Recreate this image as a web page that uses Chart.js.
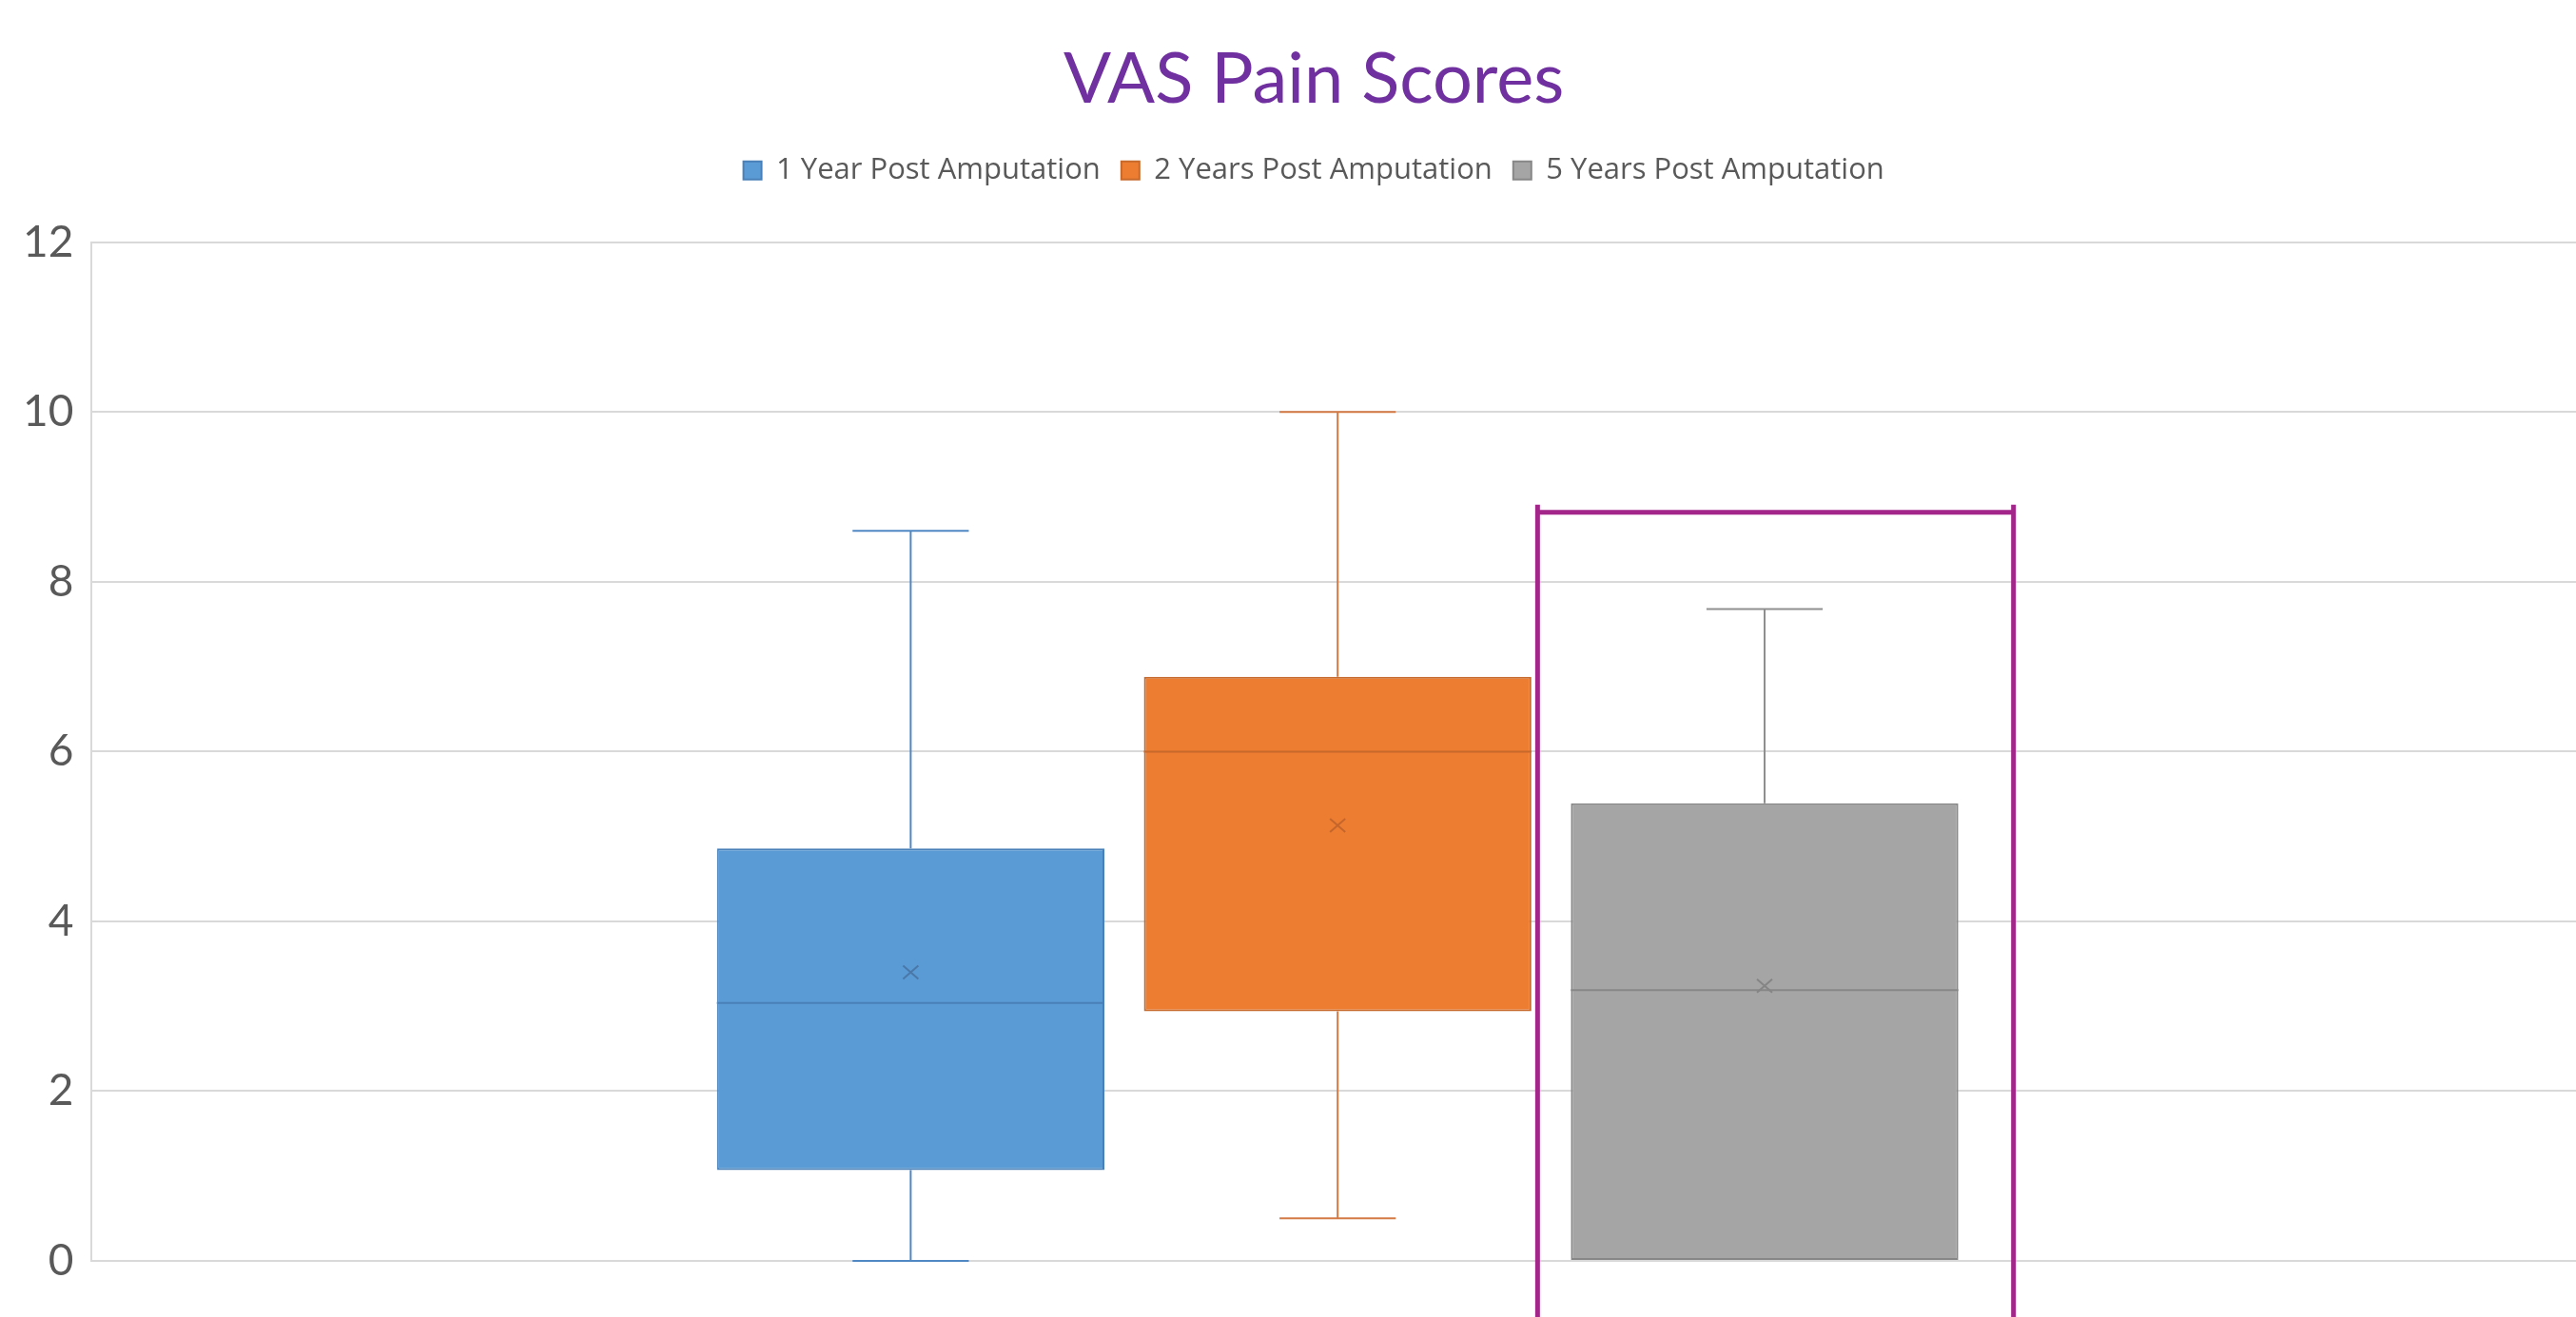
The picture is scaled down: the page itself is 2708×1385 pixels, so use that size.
<!DOCTYPE html>
<html>
<head>
<meta charset="utf-8">
<script src="https://cdn.jsdelivr.net/npm/chart.js@4.4.1/dist/chart.umd.min.js"></script>
<style>
  html, body { margin: 0; padding: 0; background: #fff; }
  #wrap { width: 2708px; height: 1385px; }
</style>
</head>
<body>
<div id="wrap"><canvas id="chart" width="2708" height="1385"></canvas></div>
<script>
/* VAS pain scores: box & whisker built from floating bars + a small draw plugin. */

const SERIES = ["1 Year Post Amputation", "2 Years Post Amputation", "5 Years Post Amputation"];
const MINS = [0, 0.5, 0];
const Q1S = [1.07, 2.94, 0];
const MEDIANS = [3.04, 6.0, 3.19];
const Q3S = [4.86, 6.88, 5.39];
const MAXS = [8.6, 10, 7.68];
const MEANS = [3.4, 5.13, 3.24];
const Y_TICKS = [0, 2, 4, 6, 8, 10, 12];

const FILLS = ["#5b9bd5", "#ed7d31", "#a5a5a5"];
const EDGES = ["#4a80b8", "#c8692c", "#878787"];
const WHISKERS = ["#5088c4", "#d47b45", "#8f8f8f"];
const MARKS = ["#4a78a8", "#c4662c", "#858585"];

// highlight bracket around the 5-year box (value of its top edge)
const BRACKET = { series: 2, top: 8.82, padLeft: 35, padRight: 58, color: "#a3278a", width: 5 };
// title + legend sit a little left of the plot centre in the original
const HEAD_SHIFT = -21;
// the original plot area runs slightly past the right edge of the picture
const X_OVERRUN = 8;

const FONT = "Lato, 'Open Sans', sans-serif";

const boxPlot = {
  id: "boxPlot",
  afterInit(chart) {
    // extra space between legend and plot area
    const lg = chart.legend;
    const fit = lg.fit;
    lg.fit = function () { fit.call(this); this.height += 50; };
  },
  afterLayout(chart) {
    [chart.titleBlock, chart.legend].forEach((b) => {
      b.left += HEAD_SHIFT;
      b.right += HEAD_SHIFT;
    });
    const x = chart.scales.x;
    x.right += X_OVERRUN;
    x.width += X_OVERRUN;
    x.configure();
  },
  afterDatasetsDraw(chart) {
    const ctx = chart.ctx;
    const y = chart.scales.y;
    SERIES.forEach((_, i) => {
      const bar = chart.getDatasetMeta(i).data[0];
      const cx = bar.x;
      const half = bar.width / 2;
      const cap = bar.width * 0.15;
      ctx.save();
      ctx.lineWidth = 2;
      ctx.strokeStyle = WHISKERS[i];
      ctx.beginPath();
      if (MAXS[i] > Q3S[i]) {
        ctx.moveTo(cx, y.getPixelForValue(Q3S[i]));
        ctx.lineTo(cx, y.getPixelForValue(MAXS[i]));
        ctx.moveTo(cx - cap, y.getPixelForValue(MAXS[i]));
        ctx.lineTo(cx + cap, y.getPixelForValue(MAXS[i]));
      }
      if (MINS[i] < Q1S[i]) {
        ctx.moveTo(cx, y.getPixelForValue(Q1S[i]));
        ctx.lineTo(cx, y.getPixelForValue(MINS[i]));
        ctx.moveTo(cx - cap, y.getPixelForValue(MINS[i]));
        ctx.lineTo(cx + cap, y.getPixelForValue(MINS[i]));
      }
      ctx.stroke();

      ctx.strokeStyle = EDGES[i];
      ctx.beginPath();
      const my = y.getPixelForValue(MEDIANS[i]);
      ctx.moveTo(cx - half, my);
      ctx.lineTo(cx + half, my);
      ctx.stroke();

      ctx.strokeStyle = MARKS[i];
      const ay = y.getPixelForValue(MEANS[i]);
      ctx.beginPath();
      ctx.moveTo(cx - 8, ay - 7);
      ctx.lineTo(cx + 8, ay + 7);
      ctx.moveTo(cx - 8, ay + 7);
      ctx.lineTo(cx + 8, ay - 7);
      ctx.stroke();
      ctx.restore();
    });
  },
  afterDraw(chart) {
    const ctx = chart.ctx;
    const bar = chart.getDatasetMeta(BRACKET.series).data[0];
    const left = bar.x - bar.width / 2 - BRACKET.padLeft;
    const right = bar.x + bar.width / 2 + BRACKET.padRight;
    const top = chart.scales.y.getPixelForValue(BRACKET.top);
    ctx.save();
    ctx.strokeStyle = BRACKET.color;
    ctx.lineWidth = BRACKET.width;
    ctx.beginPath();
    ctx.moveTo(left, chart.height);
    ctx.lineTo(left, top - 8);
    ctx.moveTo(left, top);
    ctx.lineTo(right, top);
    ctx.moveTo(right, top - 8);
    ctx.lineTo(right, chart.height);
    ctx.stroke();
    ctx.restore();
  },
};

new Chart(document.getElementById("chart"), {
  type: "bar",
  data: {
    labels: [""],
    datasets: SERIES.map((name, i) => ({
      label: name,
      data: [[Q1S[i], Q3S[i]]],
      backgroundColor: FILLS[i],
      borderColor: EDGES[i],
      borderWidth: 2,
      borderSkipped: false,
      categoryPercentage: 0.514,
      barPercentage: 0.9075,
    })),
  },
  options: {
    responsive: false,
    animation: false,
    layout: { padding: { left: 5, right: 0, top: 0, bottom: 59 } },
    plugins: {
      tooltip: { enabled: false },
      title: {
        display: true,
        text: "VAS Pain Scores",
        color: "#7030a0",
        fullSize: false,
        font: { family: FONT, size: 74, weight: "normal" },
        padding: { top: 40, bottom: 13 },
      },
      legend: {
        position: "top",
        fullSize: false,
        labels: {
          color: "#595959",
          font: { family: "'Open Sans', Lato, sans-serif", size: 31 },
          boxWidth: 19,
          boxHeight: 19,
          padding: 22,
        },
      },
    },
    scales: {
      x: { display: false },
      y: {
        min: 0,
        max: 12,
        afterBuildTicks: (s) => { s.ticks = Y_TICKS.map((v) => ({ value: v })); },
        ticks: { color: "#595959", font: { family: FONT, size: 46 }, padding: 19 },
        grid: { color: "#d9d9d9", lineWidth: 2, drawTicks: false },
        border: { color: "#d9d9d9", width: 2 },
      },
    },
  },
  plugins: [boxPlot],
});
</script>
</body>
</html>
